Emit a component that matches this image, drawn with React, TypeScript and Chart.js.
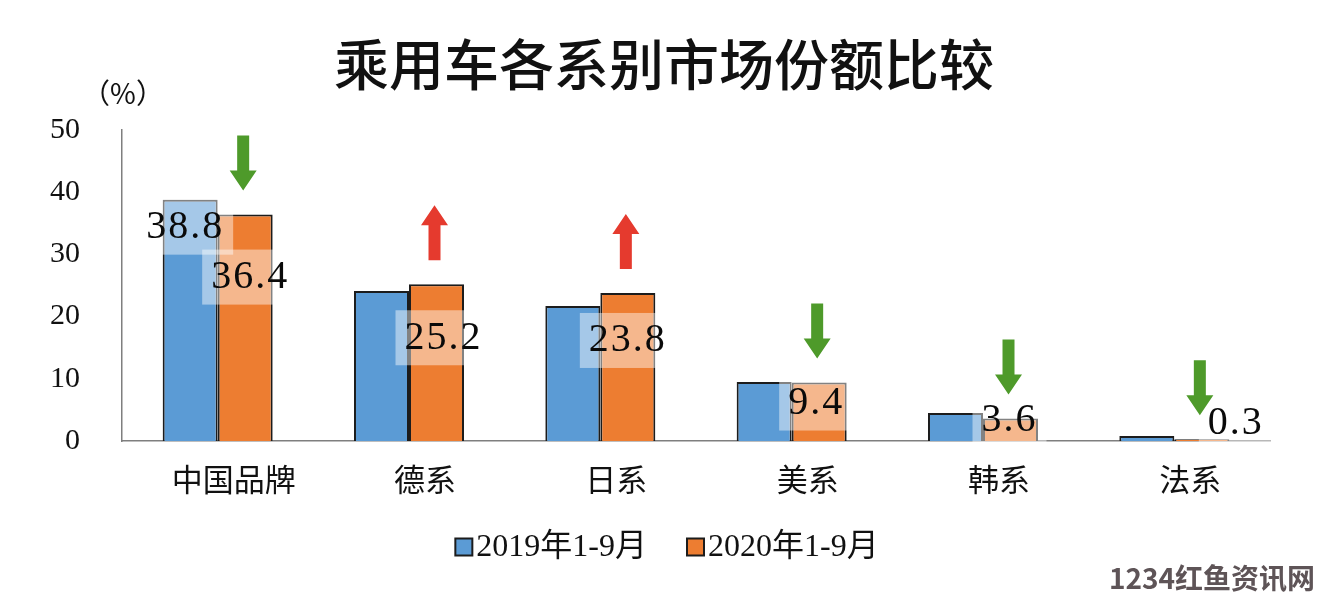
import React, { useEffect, useRef } from "react";
import { Chart, registerables } from "chart.js";

Chart.register(...registerables);

const titleText = "乘用车各系别市场份额比较";
const unitText = "（%）";
const watermarkText = "1234红鱼资讯网";
const categories = ["中国品牌", "德系", "日系", "美系", "韩系", "法系"];
const seriesNames = ["2019年1-9月", "2020年1-9月"];
const values2019 = [38.8, 24.1, 21.7, 9.5, 4.5, 0.8];
const values2020 = [36.4, 25.2, 23.8, 9.4, 3.6, 0.3];
const yTickValues = [0, 10, 20, 30, 40, 50];
// which bars carry a value label: [datasetIndex, categoryIndex]
const labeledBars = [
  [0, 0],
  [1, 0],
  [1, 1],
  [1, 2],
  [1, 3],
  [1, 4],
  [1, 5],
];
// label placement relative to the bar top (pixels), kept apart from the data
const labelShift = [
  [-5, 27],
  [5, 62],
  [7, 53],
  [0, 47],
  [-3, 20],
  [-1, 1],
  [34, -17],
];

const BLUE = "#5B9BD5";
const ORANGE = "#ED7D31";
const EDGE = "#1c1c1c";
const GREEN = "#4E9A2A";
const RED = "#E53A2E";

const decorPlugin = {
  id: "decor",
  afterDatasetsDraw(chart: any) {
    const ctx = chart.ctx;
    ctx.save();
    const m0 = chart.getDatasetMeta(0);
    const m1 = chart.getDatasetMeta(1);

    // value labels with translucent boxes
    ctx.font = '40px "Liberation Serif", "DejaVu Serif", serif';
    try {
      (ctx as any).letterSpacing = "2px";
    } catch (e) {}
    ctx.textAlign = "center";
    ctx.textBaseline = "middle";
    labeledBars.forEach(([ds, i], k) => {
      const meta = ds === 0 ? m0 : m1;
      const el = meta.data[i];
      const v = (ds === 0 ? values2019 : values2020)[i];
      const txt = v.toFixed(1);
      const x = el.x + labelShift[k][0];
      const y = el.y + labelShift[k][1];
      const w = ctx.measureText(txt).width;
      ctx.fillStyle = "rgba(255,255,255,0.45)";
      ctx.fillRect(x - w / 2 - 9, y - 27, w + 18, 55);
      ctx.fillStyle = "#0a0a0a";
      ctx.fillText(txt, x, y + 1);
    });
    try {
      (ctx as any).letterSpacing = "0px";
    } catch (e) {}

    // arrows above the 2020 bars
    categories.forEach((_, i) => {
      const el = m1.data[i];
      const up = values2020[i] > values2019[i];
      const cx = el.x - 2;
      const bottom = el.y - 24;
      const top = bottom - 55;
      const shaftW = 12;
      const headW = 27;
      const headL = 20;
      ctx.fillStyle = up ? RED : GREEN;
      ctx.beginPath();
      if (up) {
        ctx.moveTo(cx, top);
        ctx.lineTo(cx + headW / 2, top + headL);
        ctx.lineTo(cx + shaftW / 2, top + headL);
        ctx.lineTo(cx + shaftW / 2, bottom);
        ctx.lineTo(cx - shaftW / 2, bottom);
        ctx.lineTo(cx - shaftW / 2, top + headL);
        ctx.lineTo(cx - headW / 2, top + headL);
      } else {
        ctx.moveTo(cx, bottom);
        ctx.lineTo(cx + headW / 2, bottom - headL);
        ctx.lineTo(cx + shaftW / 2, bottom - headL);
        ctx.lineTo(cx + shaftW / 2, top);
        ctx.lineTo(cx - shaftW / 2, top);
        ctx.lineTo(cx - shaftW / 2, bottom - headL);
        ctx.lineTo(cx - headW / 2, bottom - headL);
      }
      ctx.closePath();
      ctx.fill();
    });
    ctx.restore();
  },
  afterDraw(chart: any) {
    const ctx = chart.ctx;
    ctx.save();
    // title
    ctx.fillStyle = "#111";
    ctx.textAlign = "center";
    ctx.textBaseline = "middle";
    ctx.font = '500 55px "Noto Sans CJK SC", sans-serif';
    ctx.fillText(titleText, 664, 64);
    // unit
    ctx.font = '28px "Noto Sans CJK SC", sans-serif';
    ctx.fillText(unitText, 123, 93);

    // legend
    ctx.font = '32px "Liberation Serif", "Noto Sans CJK SC", serif';
    const colors = [BLUE, ORANGE];
    const box = 17;
    const gapIn = 4;
    const gapOut = 40;
    const widths = seriesNames.map((s) => box + gapIn + ctx.measureText(s).width);
    const total = widths[0] + gapOut + widths[1];
    let lx = 667 - total / 2;
    const ly = 547;
    seriesNames.forEach((s, i) => {
      ctx.fillStyle = colors[i];
      ctx.fillRect(lx, ly - box / 2, box, box);
      ctx.strokeStyle = EDGE;
      ctx.lineWidth = 2;
      ctx.strokeRect(lx, ly - box / 2, box, box);
      ctx.fillStyle = "#111";
      ctx.textAlign = "left";
      ctx.fillText(s, lx + box + gapIn, ly + 1);
      lx += widths[i] + gapOut;
    });

    // watermark
    ctx.font = 'bold 28px "Noto Sans CJK SC", sans-serif';
    ctx.fillStyle = "#5e5457";
    ctx.textAlign = "right";
    ctx.fillText(watermarkText, 1315, 578);
    ctx.restore();
  },
};

export default function App() {
  const ref = useRef<HTMLCanvasElement | null>(null);
  useEffect(() => {
    if (!ref.current) return;
    const chart = new Chart(ref.current, {
      type: "bar",
      data: {
        labels: categories,
        datasets: [
          {
            label: seriesNames[0],
            data: values2019,
            backgroundColor: BLUE,
            borderColor: EDGE,
            borderWidth: 2,
            categoryPercentage: 0.575,
            barPercentage: 1.0,
          },
          {
            label: seriesNames[1],
            data: values2020,
            backgroundColor: ORANGE,
            borderColor: EDGE,
            borderWidth: 2,
            categoryPercentage: 0.575,
            barPercentage: 1.0,
          },
        ],
      },
      options: {
        responsive: false,
        animation: false,
        devicePixelRatio: 1,
        layout: { padding: { top: 130, right: 50, left: 0, bottom: 0 } },
        plugins: {
          legend: { display: false },
          tooltip: { enabled: false },
          title: { display: false },
        },
        scales: {
          x: {
            grid: { display: false, drawTicks: false },
            border: { display: true, color: "#7f7f7f", width: 1.5 },
            ticks: {
              font: { family: '"Noto Sans CJK SC", sans-serif', size: 31 },
              color: "#111",
              padding: 20,
              labelOffset: 16,
              maxRotation: 0,
              autoSkip: false,
            },
            afterFit(s: any) {
              s.height = 159;
            },
          },
          y: {
            min: 0,
            max: 50,
            grid: { display: false, drawTicks: false },
            border: { display: true, color: "#7f7f7f", width: 1.5 },
            ticks: {
              font: { family: '"Liberation Serif", "DejaVu Serif", serif', size: 30 },
              color: "#111",
              padding: 42,
            },
            afterBuildTicks(s: any) {
              s.ticks = yTickValues.map((v) => ({ value: v }));
            },
            afterFit(s: any) {
              s.width = 122;
            },
          },
        },
      },
      plugins: [decorPlugin],
    });
    return () => chart.destroy();
  }, []);
  return (
    <div
      style={{
        position: "fixed",
        left: 0,
        top: 0,
        width: 1320,
        height: 600,
        background: "#ffffff",
      }}
    >
      <canvas ref={ref} width={1320} height={600} style={{ width: 1320, height: 600 }} />
    </div>
  );
}
